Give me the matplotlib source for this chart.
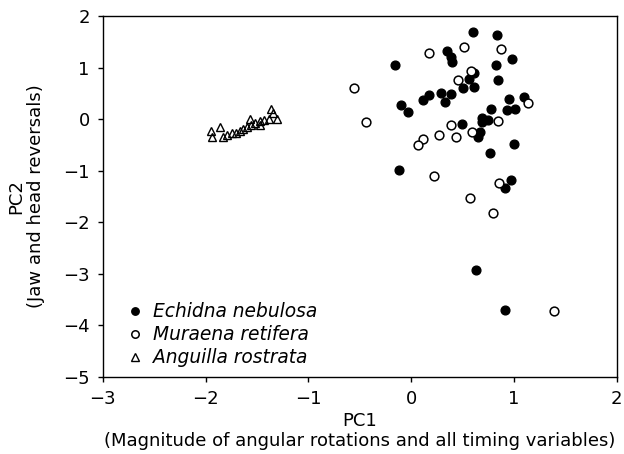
import matplotlib
matplotlib.use("Agg")
import matplotlib.pyplot as plt

# Echidna nebulosa (filled circles)
echidna_x = [0.599, 0.836, 0.346, 0.388, 0.398, 0.981, -0.16, 0.829, 0.845, 0.612,
             0.566, 0.502, 0.612, 0.294, 0.391, 0.174, 0.116, 0.33, -0.101, -0.03,
             0.95, 1.096, 0.777, 0.93, 1.008, 0.693, 0.745, 0.687, 0.498, 0.667,
             0.651, 1.001, 0.768, -0.12, 0.972, 0.916, 0.634, 0.916]
echidna_y = [1.68, 1.64, 1.33, 1.21, 1.10, 1.16, 1.05, 1.04, 0.76, 0.89,
             0.78, 0.60, 0.62, 0.51, 0.48, 0.47, 0.36, 0.34, 0.27, 0.14,
             0.38, 0.43, 0.19, 0.18, 0.19, 0.02, -0.01, -0.06, -0.10, -0.25,
             -0.35, -0.49, -0.66, -0.98, -1.19, -1.33, -2.92, -3.71]

# Muraena retifera (open circles)
muraena_x = [0.518, 0.174, 0.872, -0.553, -0.442, 0.586, 0.46, 1.137, 0.845, 0.385,
             0.595, 0.274, 0.44, 0.113, 0.067, 0.22, 0.858, 0.57, 0.80, 1.39]
muraena_y = [1.40, 1.29, 1.36, 0.61, -0.05, 0.93, 0.76, 0.32, -0.03, -0.12,
             -0.25, -0.31, -0.35, -0.39, -0.51, -1.10, -1.25, -1.53, -1.83, -3.73]

# Anguilla rostrata (open triangles)
anguilla_x = [-1.949, -1.934, -1.856, -1.833, -1.788, -1.739, -1.706, -1.661, -1.632, -1.593,
              -1.567, -1.557, -1.518, -1.470, -1.470, -1.431, -1.379, -1.363, -1.340, -1.302]
anguilla_y = [-0.227, -0.344, -0.150, -0.344, -0.311, -0.278, -0.266, -0.227, -0.200, -0.150,
              -0.006, -0.117, -0.084, -0.033, -0.117, -0.023, -0.006, 0.188, 0.110, -0.006]

x_ticks = [-3, -2, -1, 0, 1, 2]
y_ticks = [-5, -4, -3, -2, -1, 0, 1, 2]

plt.rcParams.update({
    'font.family': 'DejaVu Sans',
    'font.size': 12.5,
    'axes.linewidth': 1.0,
    'xtick.direction': 'out',
    'ytick.direction': 'out',
    'xtick.major.size': 3.3,
    'ytick.major.size': 3.3,
    'xtick.major.width': 1.0,
    'ytick.major.width': 1.0,
})

fig = plt.figure(figsize=(6.24, 4.54), dpi=100)
ax = fig.add_axes([0.1646, 0.1703, 0.8237, 0.7945])

ax.plot(echidna_x, echidna_y, 'o', ls='none', ms=6.3, mfc='black', mec='black',
        mew=1.0, label='Echidna nebulosa')
ax.plot(muraena_x, muraena_y, 'o', ls='none', ms=6.3, mfc='white', mec='black',
        mew=1.1, label='Muraena retifera')
ax.plot(anguilla_x, anguilla_y, '^', ls='none', ms=6.3, mfc='none', mec='black',
        mew=1.0, label='Anguilla rostrata')

ax.set_xlim(-3, 2)
ax.set_ylim(-5, 2)
ax.set_xticks(x_ticks)
ax.set_yticks(y_ticks)
ax.set_xticklabels([str(t).replace('-', '\u2212') for t in x_ticks])
ax.set_yticklabels([str(t).replace('-', '\u2212') for t in y_ticks])
ax.tick_params(axis='x', pad=6, labelsize=13)
ax.tick_params(axis='y', pad=6, labelsize=13)

ax.set_xlabel('PC1\n(Magnitude of angular rotations and all timing variables)',
              fontsize=13.0, linespacing=1.15)
ax.xaxis.set_label_coords(0.5, -0.098)
ax.set_ylabel('PC2\n(Jaw and head reversals)', fontsize=13.0, linespacing=1.15)
ax.yaxis.set_label_coords(-0.112, 0.5)

leg = ax.legend(loc='lower left', bbox_to_anchor=(0.02, -0.005), frameon=False,
                handletextpad=0.35, handlelength=1.2, labelspacing=0.22,
                markerscale=0.85, borderaxespad=0.2, fontsize=13.4)
for t in leg.get_texts():
    t.set_style('italic')

fig.savefig('out.png', dpi=100)
